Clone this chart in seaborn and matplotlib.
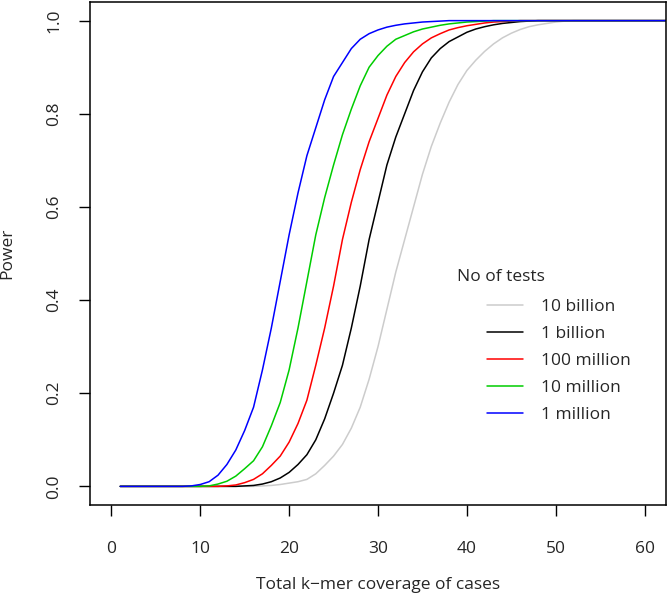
import numpy as np
import pandas as pd
import matplotlib
matplotlib.use("Agg")
import matplotlib.pyplot as plt
import seaborn as sns

sns.set_style("ticks")
plt.rcParams["font.family"] = ["Open Sans", "DejaVu Sans"]

# Valores (x = cobertura total, enteros 1..65)
coverage = list(range(1, 66))

power_1m = [0, 0, 0, 0, 0, 0, 0, 0, 0.001, 0.004,
            0.010, 0.024, 0.047, 0.078, 0.12, 0.17, 0.25, 0.34, 0.44, 0.54,
            0.63, 0.71, 0.77, 0.83, 0.88, 0.91, 0.94, 0.96, 0.972, 0.98,
            0.986, 0.99, 0.993, 0.995, 0.997, 0.998, 0.999] + [1.0] * 28

power_10m = [0, 0, 0, 0, 0, 0, 0, 0, 0, 0,
             0.001, 0.005, 0.011, 0.022, 0.038, 0.055, 0.085, 0.13, 0.18, 0.25,
             0.34, 0.44, 0.54, 0.62, 0.69, 0.755, 0.81, 0.86, 0.90, 0.925,
             0.945, 0.96, 0.968, 0.976, 0.982, 0.986, 0.99, 0.993, 0.995, 0.997,
             0.998, 0.999] + [1.0] * 23

power_100m = [0, 0, 0, 0, 0, 0, 0, 0, 0, 0,
              0, 0, 0.001, 0.003, 0.008, 0.015, 0.027, 0.045, 0.065, 0.095,
              0.135, 0.185, 0.26, 0.34, 0.43, 0.53, 0.61, 0.68, 0.74, 0.79,
              0.84, 0.88, 0.91, 0.933, 0.95, 0.963, 0.972, 0.98, 0.985, 0.989,
              0.992, 0.995, 0.997, 0.998, 0.999] + [1.0] * 20

power_1b = [0, 0, 0, 0, 0, 0, 0, 0, 0, 0,
            0, 0, 0, 0, 0.001, 0.002, 0.005, 0.01, 0.018, 0.03,
            0.047, 0.068, 0.10, 0.145, 0.20, 0.26, 0.34, 0.43, 0.53, 0.61,
            0.69, 0.75, 0.80, 0.85, 0.89, 0.92, 0.94, 0.955, 0.965, 0.975,
            0.982, 0.987, 0.991, 0.994, 0.996, 0.998, 0.999] + [1.0] * 18

power_10b = [0, 0, 0, 0, 0, 0, 0, 0, 0, 0,
             0, 0, 0, 0, 0, 0, 0.001, 0.002, 0.004, 0.007,
             0.01, 0.015, 0.027, 0.045, 0.065, 0.09, 0.125, 0.17, 0.23, 0.30,
             0.38, 0.46, 0.53, 0.60, 0.67, 0.73, 0.78, 0.825, 0.863, 0.893,
             0.915, 0.934, 0.95, 0.963, 0.973, 0.981, 0.987, 0.991, 0.994, 0.997,
             0.999] + [1.0] * 14

test_labels = ["10 billion", "1 billion", "100 million", "10 million", "1 million"]
line_colors = ["#cccccc", "#000000", "#ff0000", "#00cd00", "#0000ff"]

series = [power_10b, power_1b, power_100m, power_10m, power_1m]
df = pd.concat(
    [pd.DataFrame({"coverage": coverage, "power": vals, "tests": lab})
     for lab, vals in zip(test_labels, series)],
    ignore_index=True,
)

fig = plt.figure(figsize=(6.68, 6.0), dpi=100)
ax = fig.add_axes([90 / 668, 1 - 505 / 600, 576 / 668, 503 / 600])

sns.lineplot(data=df, x="coverage", y="power", hue="tests",
             hue_order=test_labels, palette=line_colors,
             linewidth=1.1, ax=ax, legend=True)

ax.set_xlim(-2.4, 62.4)
ax.set_ylim(-0.04, 1.04)
ax.set_xticks([0, 10, 20, 30, 40, 50, 60])
ax.set_yticks([0.0, 0.2, 0.4, 0.6, 0.8, 1.0])
ax.set_yticklabels(["0.0", "0.2", "0.4", "0.6", "0.8", "1.0"],
                   rotation=90, va="center")
ax.tick_params(axis="both", direction="out", length=8, width=1,
               labelsize=12.5, color="black")
ax.tick_params(axis="x", pad=18)
ax.tick_params(axis="y", pad=12)
for sp in ax.spines.values():
    sp.set_visible(True)
    sp.set_linewidth(1.1)
    sp.set_color("black")

ax.set_xlabel("Total k\u2212mer coverage of cases", fontsize=12.5, labelpad=14)
ax.set_ylabel("Power", fontsize=12.5, labelpad=22)

handles, labels = ax.get_legend_handles_labels()
ax.legend(handles, labels, frameon=False, fontsize=12.5,
          loc="upper left", bbox_to_anchor=(0.677, 0.4235),
          handlelength=2.1, handletextpad=1.0, labelspacing=0.62,
          borderaxespad=0)
ax.text(0.637, 0.453, "No of tests", transform=ax.transAxes,
        fontsize=12.5, ha="left", va="center")

fig.savefig("out.png", dpi=100)
